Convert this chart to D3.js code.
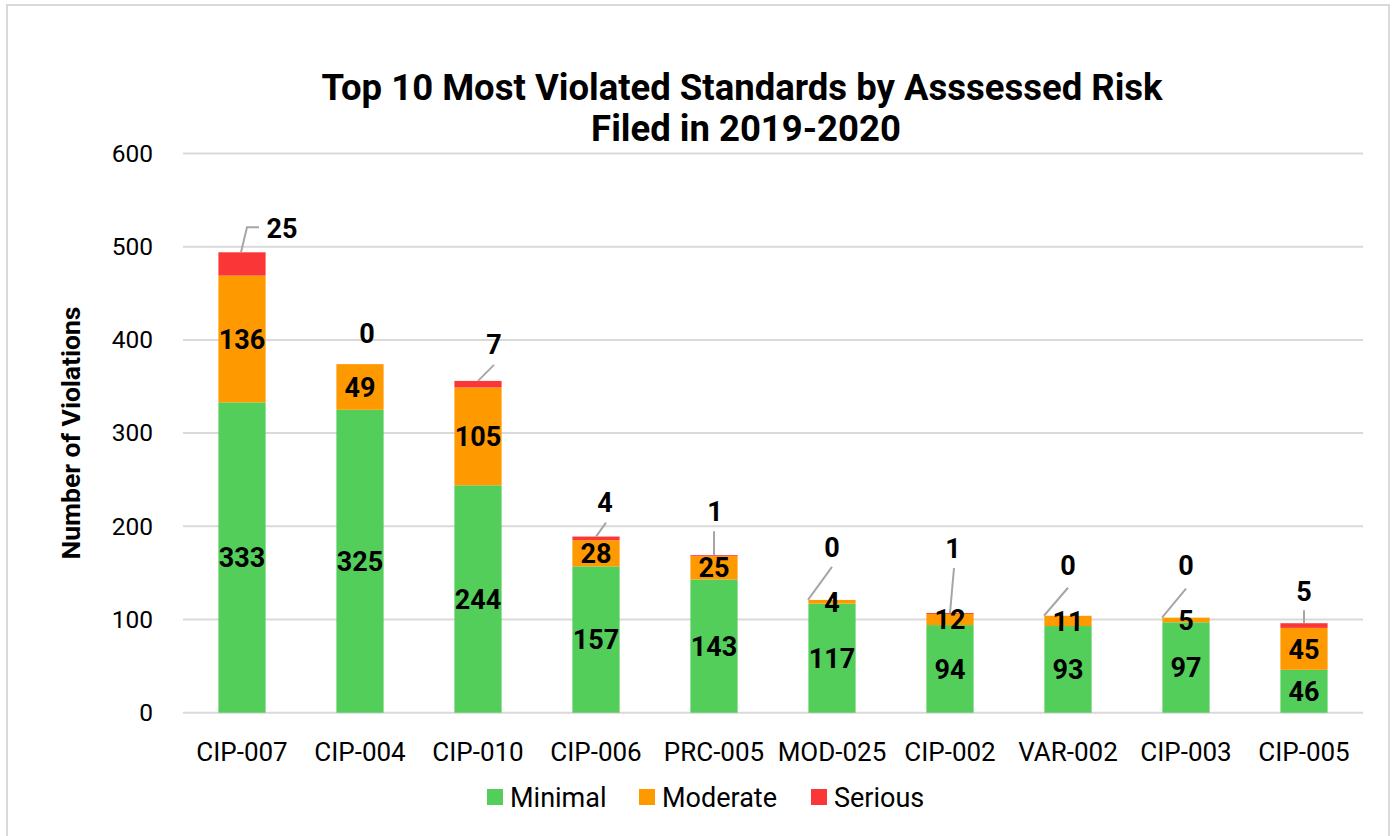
<!DOCTYPE html>
<meta charset="utf-8">
<title>Top 10 Most Violated Standards</title>
<style>
    body {
        margin: 0;
        background: #fff;
    }

    svg text {
        font-family: Roboto, "Noto Sans", sans-serif;
        fill: #000;
    }
</style>
<body>
<script src="https://cdnjs.cloudflare.com/ajax/libs/d3/7.8.5/d3.min.js"></script>
<script>
    var standards = ["CIP-007", "CIP-004", "CIP-010", "CIP-006", "PRC-005", "MOD-025", "CIP-002", "VAR-002", "CIP-003", "CIP-005"];
    var minimal = [333, 325, 244, 157, 143, 117, 94, 93, 97, 46];
    var moderate = [136, 49, 105, 28, 25, 4, 12, 11, 5, 45];
    var serious = [25, 0, 7, 4, 1, 0, 1, 0, 0, 5];
    var yTicks = [0, 100, 200, 300, 400, 500, 600];
    var riskLevels = ["Minimal", "Moderate", "Serious"];
    var colors = {Minimal: "#53ce5a", Moderate: "#ff9900", Serious: "#fb3636"};

    // where Excel put the "Serious" labels, relative to the bar top (px)
    var labelShift = [[40, -24], [7, -31], [16, -37], [9, -34], [1, -44], [0, -53], [3, -65], [0, -50], [0, -52], [0, -32]];
    var leaders = [
        [[-1, 0], [5, -25], [17, -25]],
        null,
        [[0, 0], [16, -16]],
        [[0, 0], [10, -14]],
        [[0, 0], [0, -24]],
        [[-24, 0], [0, -33]],
        [[0, 0], [4, -45]],
        [[-24, 0], [0, -28]],
        [[-24, 0], [0, -29]],
        [[0, 0], [0, -13]]
    ];

    var W = 1392, H = 836;

    var rows = standards.map(function (s, i) {
        return {name: s, Minimal: minimal[i], Moderate: moderate[i], Serious: serious[i]};
    });

    var svg = d3.select("body").append("svg")
        .attr("width", W)
        .attr("height", H);

    svg.append("rect")
        .attr("x", 7)
        .attr("y", 5)
        .attr("width", 1382)
        .attr("height", 840)
        .attr("fill", "none")
        .attr("stroke", "#d9d9d9")
        .attr("stroke-width", 2);

    var x = d3.scaleBand()
        .domain(standards)
        .range([183, 1363])
        .paddingInner(0.6)
        .paddingOuter(0.3);

    var y = d3.scaleLinear()
        .domain([0, 600])
        .range([712.7, 153.5]);

    // grid
    svg.append("g")
        .selectAll("line")
        .data(yTicks)
        .enter()
        .append("line")
        .attr("x1", 183)
        .attr("x2", 1363)
        .attr("y1", function (d) { return y(d); })
        .attr("y2", function (d) { return y(d); })
        .attr("stroke", "#d9d9d9")
        .attr("stroke-width", 2);

    var yAxis = svg.append("g")
        .attr("transform", "translate(183,0)")
        .call(d3.axisLeft(y).tickValues(yTicks).tickSize(0).tickPadding(30));
    yAxis.select(".domain").remove();
    yAxis.selectAll("text")
        .style("font-family", "Roboto, sans-serif")
        .style("font-size", "24.5px")
        .attr("fill", "#222");

    var xAxis = svg.append("g")
        .attr("transform", "translate(0,712.7)")
        .call(d3.axisBottom(x).tickSize(0).tickPadding(30));
    xAxis.select(".domain").remove();
    xAxis.selectAll("text")
        .style("font-family", "Roboto, sans-serif")
        .style("font-size", "26px")
        .attr("fill", "#222");

    var stacked = d3.stack().keys(riskLevels)(rows);

    var layer = svg.append("g")
        .selectAll("g")
        .data(stacked)
        .enter()
        .append("g")
        .attr("fill", function (d) { return colors[d.key]; });

    layer.selectAll("rect")
        .data(function (d) { return d; })
        .enter()
        .append("rect")
        .attr("x", function (d) { return x(d.data.name); })
        .attr("width", x.bandwidth())
        .attr("y", function (d) { return y(d[1]); })
        .attr("height", function (d) { return y(d[0]) - y(d[1]); });

    // labels inside the bars
    stacked.slice(0, 2).forEach(function (s) {
        svg.append("g")
            .selectAll("text")
            .data(s)
            .enter()
            .append("text")
            .attr("x", function (d) { return x(d.data.name) + x.bandwidth() / 2; })
            .attr("y", function (d) { return (y(d[0]) + y(d[1])) / 2; })
            .attr("dy", "0.36em")
            .attr("text-anchor", "middle")
            .style("font-size", "27px")
            .style("font-weight", "bold")
            .text(function (d) { return d.data[s.key]; });
    });

    // Serious labels with leader lines
    var seriousLayer = stacked[2];
    seriousLayer.forEach(function (d, i) {
        var bx = x(d.data.name) + x.bandwidth() / 2;
        var by = y(d[1]);
        if (leaders[i]) {
            svg.append("polyline")
                .attr("points", leaders[i].map(function (p) { return (bx + p[0]) + "," + (by + p[1]); }).join(" "))
                .attr("fill", "none")
                .attr("stroke", "#a6a6a6")
                .attr("stroke-width", 2);
        }
        svg.append("text")
            .attr("x", bx + labelShift[i][0])
            .attr("y", by + labelShift[i][1])
            .attr("dy", "0.36em")
            .attr("text-anchor", "middle")
            .style("font-size", "27px")
            .style("font-weight", "bold")
            .text(d.data.Serious);
    });

    // title
    var title = svg.append("text")
        .attr("x", 742)
        .attr("text-anchor", "middle")
        .style("font-size", "36.5px")
        .style("font-weight", "bold");
    title.append("tspan").attr("x", 742).attr("y", 100).text("Top 10 Most Violated Standards by Asssessed Risk");
    title.append("tspan").attr("x", 746).attr("y", 141).text("Filed in 2019-2020");

    svg.append("text")
        .attr("transform", "translate(70,433) rotate(-90)")
        .attr("text-anchor", "middle")
        .attr("dy", "0.36em")
        .style("font-size", "26.5px")
        .style("font-weight", "bold")
        .text("Number of Violations");

    // legend
    var legendX = [487, 639, 811];
    var legend = svg.append("g")
        .selectAll("g")
        .data(riskLevels)
        .enter()
        .append("g")
        .attr("transform", function (d, i) { return "translate(" + legendX[i] + ",797)"; });
    legend.append("rect")
        .attr("x", 0)
        .attr("y", -8)
        .attr("width", 16)
        .attr("height", 16)
        .attr("fill", function (d) { return colors[d]; });
    legend.append("text")
        .attr("x", 23)
        .attr("dy", "0.36em")
        .style("font-size", "27px")
        .attr("fill", "#222")
        .text(function (d) { return d; });
</script>
